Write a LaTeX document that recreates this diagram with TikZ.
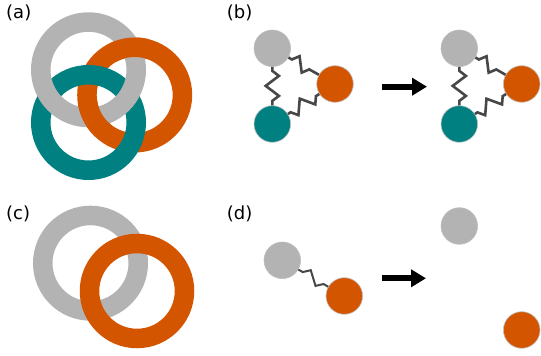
\documentclass[tikz,border=0pt]{standalone}
\usepackage{fontspec}
\setmainfont{DejaVu Sans}
\usetikzlibrary{decorations.pathmorphing, arrows.meta}
\definecolor{lgray}{HTML}{B3B3B3}
\definecolor{dorange}{HTML}{D45500}
\definecolor{dteal}{HTML}{008080}

\begin{document}
\begin{tikzpicture}[x=0.5pt, y=-0.5pt,
  ring/.style={line width=9.75pt},
  ball/.style={circle, inner sep=0pt, minimum size=18.3pt, draw=black!25, line width=0.3pt},
  spring/.style={draw=black!72, line width=1.3pt, decorate,
    decoration={zigzag, segment length=10pt, amplitude=3.3pt, pre length=2pt, post length=1pt}},
  bigarrow/.style={-{Triangle[length=7.5pt, width=8.5pt]}, line width=3pt},
  lbl/.style={anchor=base west, inner sep=0pt, font=\fontsize{9}{11}\selectfont}]
\useasboundingbox (0,0) rectangle (541,356);
\node[lbl] (la) at (5.8,18.3) {(a)};
\node[lbl] (lb) at (226.5,18.3) {(b)};
\node[lbl] (lc) at (5.8,219.5) {(c)};
\node[lbl] (ld) at (226.5,219.5) {(d)};

% (a) three rings
\draw[ring, dorange] (134.7,95) circle [radius=47.75];
\draw[ring, dteal] (88.5,122.5) circle [radius=47.75];
\draw[ring, lgray] (88.5,69.8) circle [radius=47.75];
\begin{scope}
  \clip (92.5,117.4) circle [radius=20] (130.7,47.4) circle [radius=20];
  \draw[ring, dorange] (134.7,95) circle [radius=47.75];
\end{scope}

% (b) three balls, before and after
\node[ball, fill=lgray] (g1) at (272.3,48.3) {};
\node[ball, fill=dorange] (o1) at (335,84) {};
\node[ball, fill=dteal] (t1) at (272.3,124) {};
\draw[spring] (g1) -- (t1);
\draw[spring] (g1) -- (o1);
\draw[spring] (o1) -- (t1);
\coordinate (b0) at (382,86.7);
\coordinate (b1) at (427,86.7);
\draw[bigarrow] (b0) -- (b1);
\node[ball, fill=lgray] (g2) at (459.3,48.3) {};
\node[ball, fill=dorange] (o2) at (521.7,84) {};
\node[ball, fill=dteal] (t2) at (459.3,124) {};
\draw[spring] (g2) -- (t2);
\draw[spring] (g2) -- (o2);
\draw[spring] (o2) -- (t2);

% (c) two rings
\draw[ring, lgray] (90.5,263.2) circle [radius=47.75];
\draw[ring, dorange] (137,291) circle [radius=47.5];

% (d) two balls, before and after
\node[ball, fill=lgray] (g3) at (282.3,260.3) {};
\node[ball, fill=dorange] (o3) at (344.3,296) {};
\draw[spring, line width=1pt, decoration={segment length=12pt, amplitude=2.8pt, pre length=2.5pt, post length=2.5pt}] (g3) -- (o3);
\coordinate (d0) at (382,278.3);
\coordinate (d1) at (426,278.3);
\draw[bigarrow] (d0) -- (d1);
\node[ball, fill=lgray] (g4) at (459.3,226) {};
\node[ball, fill=dorange] (o4) at (521.7,330) {};
\end{tikzpicture}
\end{document}
